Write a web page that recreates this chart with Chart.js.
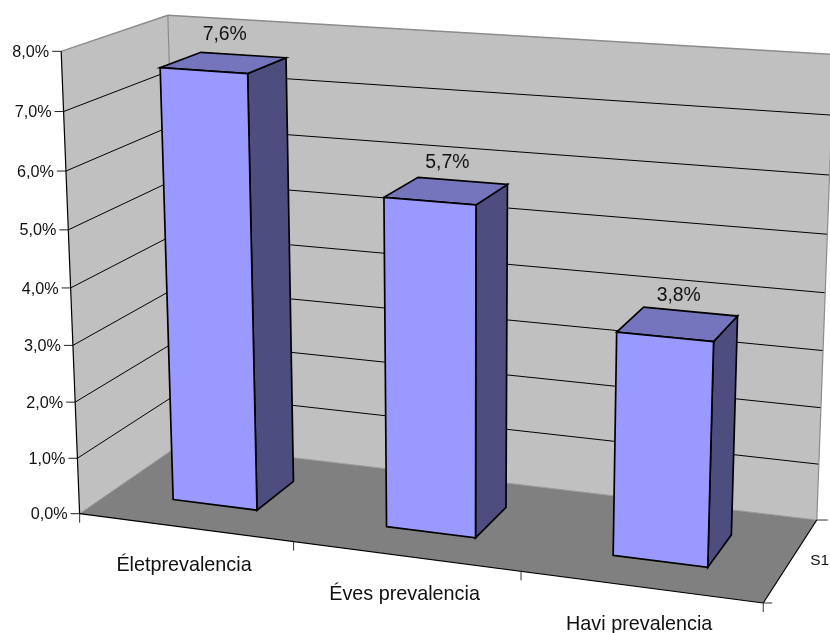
<!DOCTYPE html>
<html>
<head>
<meta charset="utf-8">
<style>
  html, body { margin: 0; padding: 0; background: #fff; }
  #wrap { width: 830px; height: 633px; }
</style>
<script src="https://cdn.jsdelivr.net/npm/chart.js@4"></script>
</head>
<body>
<div id="wrap"><canvas id="chart" width="830" height="633"></canvas></div>
<script>
const categories = ['Életprevalencia', 'Éves prevalencia', 'Havi prevalencia'];
const seriesName = 'S1';
const prevalence = [7.6, 5.7, 3.8];
const axisMin = 0;
const axisMax = 8;
const axisStep = 1;

const FONT = '"Liberation Sans", Arial, sans-serif';

// Room corners as [u, v, w, screenX, screenY]: u runs along the categories,
// v up the value axis, w into the depth of the room.
const roomCorners = [
  [0, 0, 0, 80, 514], [1, 0, 0, 763, 603], [0, 0, 1, 180, 444], [1, 0, 1, 817, 520],
  [0, 1, 0, 61, 51], [0, 1, 1, 168, 15.5], [1, 1, 1, 834, 54.5]
];
const depthFront = 0.30;
const depthBack = 0.70;

// Least-squares fit of a perspective camera to the room corners.
function fitCamera(pts) {
  const n = 11, A = [];
  for (let i = 0; i < n; i++) A.push(new Array(n + 1).fill(0));
  const add = (row, rhs) => {
    for (let i = 0; i < n; i++) {
      for (let j = 0; j < n; j++) A[i][j] += row[i] * row[j];
      A[i][n] += row[i] * rhs;
    }
  };
  for (const [u, v, w, x, y] of pts) {
    add([u, v, w, 1, 0, 0, 0, 0, -x * u, -x * v, -x * w], x);
    add([0, 0, 0, 0, u, v, w, 1, -y * u, -y * v, -y * w], y);
  }
  for (let c = 0; c < n; c++) {
    let p = c;
    for (let r = c + 1; r < n; r++) if (Math.abs(A[r][c]) > Math.abs(A[p][c])) p = r;
    [A[c], A[p]] = [A[p], A[c]];
    for (let r = 0; r < n; r++) {
      if (r === c) continue;
      const f = A[r][c] / A[c][c];
      for (let k = c; k <= n; k++) A[r][k] -= f * A[c][k];
    }
  }
  return A.map((row, i) => row[n] / row[i]);
}
const cam = fitCamera(roomCorners);
function project(u, v, w) {
  const h = cam[8] * u + cam[9] * v + cam[10] * w + 1;
  return [
    (cam[0] * u + cam[1] * v + cam[2] * w + cam[3]) / h,
    (cam[4] * u + cam[5] * v + cam[6] * w + cam[7]) / h
  ];
}

function poly(ctx, pts, fill, stroke, lw) {
  ctx.beginPath();
  pts.forEach((p, i) => i ? ctx.lineTo(p[0], p[1]) : ctx.moveTo(p[0], p[1]));
  ctx.closePath();
  if (fill) { ctx.fillStyle = fill; ctx.fill(); }
  if (stroke) { ctx.strokeStyle = stroke; ctx.lineWidth = lw; ctx.lineJoin = 'miter'; ctx.stroke(); }
}
function line(ctx, a, b, color, lw) {
  ctx.beginPath();
  ctx.moveTo(a[0], a[1]);
  ctx.lineTo(b[0], b[1]);
  ctx.strokeStyle = color;
  ctx.lineWidth = lw;
  ctx.stroke();
}
// x, y give the anchor on the text baseline
function label(ctx, text, x, y, size, align) {
  ctx.font = size + 'px ' + FONT;
  ctx.fillStyle = '#111';
  ctx.textAlign = align || 'center';
  ctx.textBaseline = 'alphabetic';
  ctx.fillText(text, x, y);
}

// Draws the room, the axes and the boxes in perspective, reading every
// position from the chart's own category and value scales.
const room3d = {
  id: 'room3d',
  beforeDatasetDraw(chart) {
    const { ctx, chartArea: a, scales } = chart;
    const yScale = scales.y, xScale = scales.x;
    const toU = px => (px - a.left) / (a.right - a.left);
    const toV = px => (a.bottom - px) / (a.bottom - a.top);

    ctx.save();
    // Walls and floor
    poly(ctx, [project(0,0,0), project(0,1,0), project(0,1,1), project(0,0,1)], '#C0C0C0');
    poly(ctx, [project(0,0,1), project(0,1,1), project(1,1,1), project(1,0,1)], '#C0C0C0');
    poly(ctx, [project(0,0,0), project(1,0,0), project(1,0,1), project(0,0,1)], '#808080');

    // Gridlines and value-axis ticks
    yScale.ticks.forEach(t => {
      const v = toV(yScale.getPixelForValue(t.value));
      const p0 = project(0, v, 0), p1 = project(0, v, 1), p2 = project(1, v, 1);
      if (t.value > axisMin && t.value < axisMax) {
        line(ctx, p0, p1, '#000', 1);
        line(ctx, p1, p2, '#000', 1);
      }
      line(ctx, [p0[0] - 9, p0[1]], p0, '#222', 1);
      label(ctx, t.value.toFixed(1).replace('.', ',') + '%', p0[0] - 12, p0[1] + 5.6, 16.2, 'right');
    });

    // Room edges in grey
    const grey = '#8C8C8C';
    line(ctx, project(0,1,0), project(0,1,1), grey, 1.4);
    line(ctx, project(0,1,1), project(1,1,1), grey, 1.4);
    line(ctx, project(0,1,1), project(0,0,1), grey, 1.2);
    line(ctx, project(1,1,1), project(1,0,1), grey, 1.2);
    line(ctx, project(0,0,0), project(0,0,1), '#999', 1);
    line(ctx, project(0,0,1), project(1,0,1), '#999', 1);

    // Front axes
    line(ctx, project(0,0,0), project(0,1,0), '#000', 1.2);
    line(ctx, project(0,0,0), project(1,0,0), '#000', 1.2);
    line(ctx, project(1,0,0), project(1,0,1), '#000', 1.2);

    // Category ticks and labels along the front edge
    for (let i = 0; i <= categories.length; i++) {
      const p = project(i / categories.length, 0, 0);
      line(ctx, p, [p[0], p[1] + 9], '#333', 1);
    }
    categories.forEach((c, i) => {
      const p = project(toU(xScale.getPixelForValue(i)), 0, 0);
      label(ctx, c, p[0] - 1, p[1] + 43.3, 19.8);
    });

    // Depth axis ticks and series label
    const d0 = project(1,0,0), d1 = project(1,0,1), dm = project(1,0,0.5);
    line(ctx, d0, [d0[0] + 9, d0[1]], '#333', 1);
    line(ctx, d1, [d1[0] + 11, d1[1]], '#333', 1);
    label(ctx, seriesName, dm[0] + 28.5, dm[1] + 5, 15.5);

    // Boxes, one per element of the bar dataset
    const meta = chart.getDatasetMeta(0);
    meta.data.forEach((bar, i) => {
      const { x, y, base, width } = bar.getProps(['x', 'y', 'base', 'width'], true);
      const front = bar.options.backgroundColor;
      const u0 = toU(x - width / 2), u1 = toU(x + width / 2);
      const v0 = toV(base), v1 = toV(y);
      const w0 = depthFront, w1 = depthBack;
      const edge = '#000';
      poly(ctx, [project(u1,v0,w0), project(u1,v1,w0), project(u1,v1,w1), project(u1,v0,w1)], '#4D4D80', edge, 1.7);
      poly(ctx, [project(u0,v1,w0), project(u1,v1,w0), project(u1,v1,w1), project(u0,v1,w1)], '#7575BE', edge, 1.7);
      poly(ctx, [project(u0,v0,w0), project(u1,v0,w0), project(u1,v1,w0), project(u0,v1,w0)], front, edge, 1.7);
      const top = project((u0 + u1) / 2, v1, (w0 + w1) / 2);
      label(ctx, prevalence[i].toFixed(1).replace('.', ',') + '%', top[0] + 1, top[1] - 23, 19.4);
    });
    ctx.restore();
    return false; // the flat bars are replaced by the boxes above
  }
};

new Chart(document.getElementById('chart'), {
  type: 'bar',
  data: {
    labels: categories,
    datasets: [{
      label: seriesName,
      data: prevalence,
      backgroundColor: '#9999FF',
      borderWidth: 0,
      barPercentage: 0.40,
      categoryPercentage: 1
    }]
  },
  options: {
    responsive: false,
    animation: false,
    layout: { padding: 0 },
    plugins: { legend: { display: false }, tooltip: { enabled: false } },
    scales: {
      x: { display: false, grid: { display: false }, offset: true },
      y: { display: false, min: axisMin, max: axisMax, ticks: { stepSize: axisStep } }
    }
  },
  plugins: [room3d]
});
</script>
</body>
</html>
